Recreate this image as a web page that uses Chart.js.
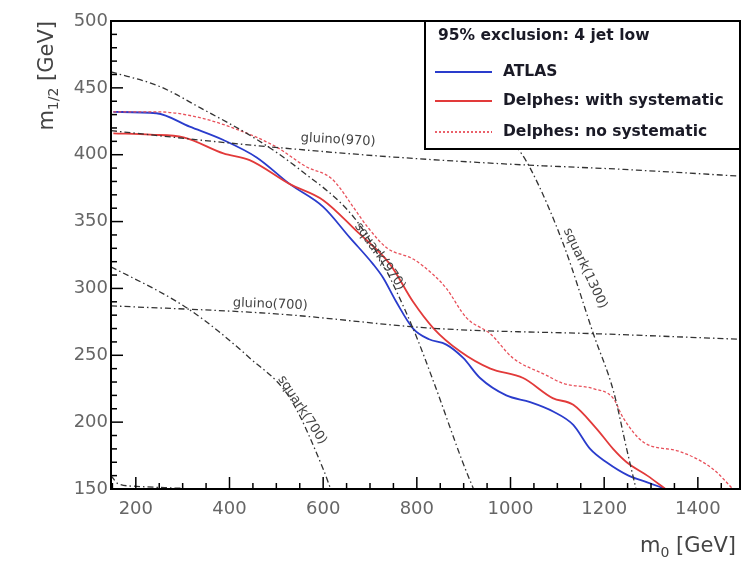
<!DOCTYPE html>
<html><head><meta charset="utf-8">
<script src="https://cdn.jsdelivr.net/npm/chart.js@4.4.0/dist/chart.umd.min.js"></script>
<style>html,body{margin:0;padding:0;background:#fff}#wrap{width:749px;height:562px;position:relative}</style>
</head><body><div id="wrap"><canvas id="c"></canvas></div>
<script>
// ---- data (m0 [GeV], m1/2 [GeV]) ----
const xTicks=[200,400,600,800,1000,1200,1400];
const yTicks=[150,200,250,300,350,400,450,500];

const atlasM0=[152,244,315,387,458,529,600,657,707,728,756,792,826,863,899,935,991,1042,1091,1134,1170,1205,1252,1292,1331];
const atlasM12=[432,431,421,411,398,378,361,338,318,308,290,270,262,258,248,233,220,215,208,198,180,170,160,155,150];

const systM0=[152,231,302,387,443,529,600,671,743,792,836,892,957,1027,1090,1134,1184,1219,1248,1292,1331];
const systM12=[416,415,413,401,396,378,366,343,318,290,270,253,240,233,218,213,195,180,170,160,150];

const nosystM0=[152,251,320,400,499,564,615,636,662,697,737,792,836,863,906,957,1005,1077,1112,1177,1219,1241,1284,1362,1432,1475];
const nosystM12=[432,432,429,421,406,391,383,375,362,345,330,322,310,300,278,266,248,235,229,225,218,203,185,178,165,150];

const gluino970M0=[147,422,721,994,1242,1490];
const gluino970M12=[418,408,399,393,389,384];
const gluino700M0=[147,499,843,1192,1490];
const gluino700M12=[287,281,270,266,262];
const squark700M0=[147,159,315,443,529,600,616];
const squark700M12=[316,314,284,248,218,165,150];
const squark970M0=[147,251,338,460,546,666,722,792,836,898,921];
const squark970M12=[462,451,435,411,390,353,322,270,230,170,150];
const squark1300M0=[856,900,960,1005,1042,1113,1178,1220,1248,1268];
const squark1300M12=[480,460,430,410,390,333,265,223,180,150];
const cornerM0=[147,162,201,261,300];
const cornerM12=[160,154,152,151,150.5];

const seriesNames=['ATLAS','Delphes: with systematic','Delphes: no systematic'];
const legendTitle='95% exclusion: 4 jet low';
const curveLabels=['gluino(970)','gluino(700)','squark(700)','squark(970)','squark(1300)'];
const labelM0=[632,487,555,721,1159];
const labelM12=[411,288,209,324,315];
const labelAngle=[3,2,57,55,65];

// ---- build ----
const pts=(xs,ys)=>xs.map((x,i)=>({x:x,y:ys[i]}));
const theory={borderColor:'#333',borderWidth:1.3,borderDash:[6,3,1.5,3],pointRadius:0,fill:false,cubicInterpolationMode:'monotone'};
const datasets=[
 Object.assign({label:'gluino(970)',data:pts(gluino970M0,gluino970M12)},theory),
 Object.assign({label:'gluino(700)',data:pts(gluino700M0,gluino700M12)},theory),
 Object.assign({label:'squark(700)',data:pts(squark700M0,squark700M12)},theory),
 Object.assign({label:'squark(970)',data:pts(squark970M0,squark970M12)},theory),
 Object.assign({label:'squark(1300)',data:pts(squark1300M0,squark1300M12)},theory),
 Object.assign({label:'corner',data:pts(cornerM0,cornerM12)},theory),
 {label:seriesNames[2],data:pts(nosystM0,nosystM12),borderColor:'#e8505a',borderWidth:1.3,borderDash:[3,2],pointRadius:0,cubicInterpolationMode:'monotone'},
 {label:seriesNames[1],data:pts(systM0,systM12),borderColor:'#e23a3a',borderWidth:1.8,pointRadius:0,cubicInterpolationMode:'monotone'},
 {label:seriesNames[0],data:pts(atlasM0,atlasM12),borderColor:'#2a3ccc',borderWidth:1.8,pointRadius:0,cubicInterpolationMode:'monotone'}
];

const decor={
 id:'decor',
 afterDatasetsDraw(chart){
  const ctx=chart.ctx, a=chart.chartArea, xs=chart.scales.x, ys=chart.scales.y;
  ctx.save();
  // curve labels
  ctx.fillStyle='#444'; ctx.font='13px "DejaVu Sans"'; ctx.textAlign='center'; ctx.textBaseline='middle';
  curveLabels.forEach((t,i)=>{
   ctx.save();
   ctx.translate(xs.getPixelForValue(labelM0[i]),ys.getPixelForValue(labelM12[i]));
   ctx.rotate(labelAngle[i]*Math.PI/180);
   ctx.fillText(t,0,0);
   ctx.restore();
  });
  // ticks inside
  ctx.strokeStyle='#000'; ctx.lineWidth=1.5;
  for(let v=150; v<=500; v+=10){
   const y=ys.getPixelForValue(v), L=(v%50===0)?12:6;
   ctx.beginPath(); ctx.moveTo(a.left,y); ctx.lineTo(a.left+L,y); ctx.stroke();
  }
  for(let v=150; v<=1500; v+=50){
   if(v<xs.min||v>xs.max) continue;
   const x=xs.getPixelForValue(v), L=(v%200===0)?12:6;
   ctx.beginPath(); ctx.moveTo(x,a.bottom); ctx.lineTo(x,a.bottom-L); ctx.stroke();
  }
  // frame
  ctx.lineWidth=2; ctx.strokeRect(a.left,a.top,a.right-a.left,a.bottom-a.top);
  // legend
  const lx=425, ly=a.top, lw=a.right-425, lh=128;
  ctx.fillStyle='#fff'; ctx.fillRect(lx,ly,lw,lh);
  ctx.strokeRect(lx,ly,lw,lh);
  ctx.fillStyle='#1a1a26'; ctx.font='bold 15.5px "DejaVu Sans"'; ctx.textAlign='left'; ctx.textBaseline='middle';
  ctx.fillText(legendTitle,438,ly+15);
  const cols=['#2a3ccc','#e23a3a','#e8505a'], dashes=[[],[],[2,2]], rowY=[ly+51,ly+80,ly+111];
  seriesNames.forEach((n,i)=>{
   ctx.strokeStyle=cols[i]; ctx.lineWidth=1.8; ctx.setLineDash(dashes[i]);
   ctx.beginPath(); ctx.moveTo(435,rowY[i]); ctx.lineTo(492,rowY[i]); ctx.stroke();
   ctx.setLineDash([]);
   ctx.fillText(n,503,rowY[i]);
  });
  // axis titles
  ctx.fillStyle='#444'; ctx.textBaseline='alphabetic';
  const big='21px "DejaVu Sans"', small='14px "DejaVu Sans"';
  // y title
  ctx.save(); ctx.translate(53,a.top); ctx.rotate(-Math.PI/2);
  ctx.font=big; const w1=ctx.measureText('m').width, w3=ctx.measureText(' [GeV]').width;
  ctx.font=small; const w2=ctx.measureText('1/2').width;
  let x0=-(w1+w2+w3);
  ctx.font=big; ctx.textAlign='left'; ctx.fillText('m',x0,0);
  ctx.font=small; ctx.fillText('1/2',x0+w1,5);
  ctx.font=big; ctx.fillText(' [GeV]',x0+w1+w2,0);
  ctx.restore();
  // x title
  ctx.font=big; const u1=ctx.measureText('m').width, u3=ctx.measureText(' [GeV]').width;
  ctx.font=small; const u2=ctx.measureText('0').width;
  let xs0=a.right-4-(u1+u2+u3), yb=552;
  ctx.font=big; ctx.fillText('m',xs0,yb);
  ctx.font=small; ctx.fillText('0',xs0+u1,yb+5);
  ctx.font=big; ctx.fillText(' [GeV]',xs0+u1+u2,yb);
  ctx.restore();
 }
};

new Chart(document.getElementById('c'),{
 type:'line',
 data:{datasets:datasets},
 options:{
  responsive:true, maintainAspectRatio:false, animation:false,
  layout:{padding:{top:21,right:9,left:0,bottom:0}},
  plugins:{legend:{display:false},tooltip:{enabled:false}},
  scales:{
   x:{type:'linear',min:147,max:1490,
      afterBuildTicks:s=>{s.ticks=xTicks.map(v=>({value:v}));},
      ticks:{font:{family:'DejaVu Sans',size:18},color:'#666',padding:10,maxRotation:0,autoSkip:false,callback:v=>String(v)},
      grid:{display:false,drawTicks:false},border:{display:false},
      afterFit:s=>{s.height=73;}},
   y:{type:'linear',min:150,max:500,
      afterBuildTicks:s=>{s.ticks=yTicks.map(v=>({value:v}));},
      ticks:{font:{family:'DejaVu Sans',size:18},color:'#666',padding:3,autoSkip:false,callback:v=>String(v)},
      grid:{display:false,drawTicks:false},border:{display:false},
      afterFit:s=>{s.width=111;}}
  }
 },
 plugins:[decor]
});
</script></body></html>
